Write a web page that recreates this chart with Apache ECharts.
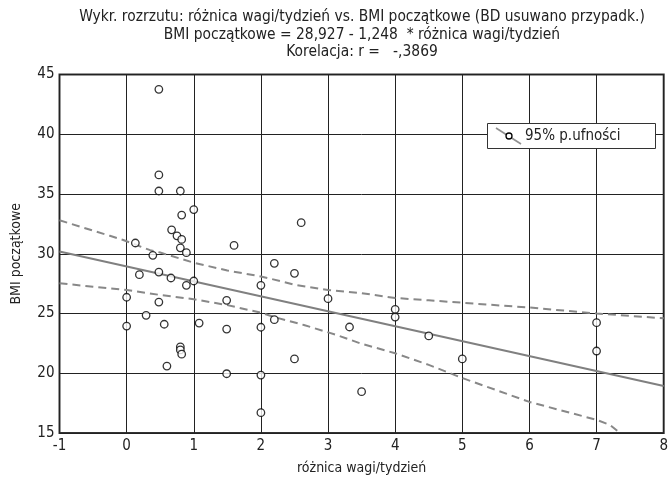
<!DOCTYPE html>
<html>
<head>
<meta charset="utf-8">
<script src="https://cdn.jsdelivr.net/npm/echarts@6/dist/echarts.min.js"></script>
<style>html,body{margin:0;padding:0;background:#fff;}#c{width:671px;height:480px;}</style>
</head>
<body>
<div id="c"></div>
<script>
var titleLines = [
  'Wykr. rozrzutu: różnica wagi/tydzień vs. BMI początkowe (BD usuwano przypadk.)',
  'BMI początkowe = 28,927 - 1,248  * różnica wagi/tydzień',
  'Korelacja: r =   -,3869'
];
var xName = 'różnica wagi/tydzień';
var yName = 'BMI początkowe';
var legendText = '95% p.ufności';

var pointsX = [0.48,0.48,0.48,0.80,1.00,0.82,0.67,0.75,0.82,0.13,0.80,1.60,0.89,0.39,2.20,0.19,0.48,0.66,1.00,0.89,2.00,0.00,0.48,1.49,2.20,0.29,0.00,0.56,1.08,1.49,2.00,0.80,0.80,0.82,0.60,1.49,2.00,2.00,2.60,2.50,3.00,3.32,4.00,4.00,4.50,2.50,5.00,3.50,7.00,7.00];
var pointsY = [43.76,36.60,35.25,35.25,33.70,33.24,32.00,31.50,31.20,30.90,30.50,30.70,30.09,29.87,29.20,28.25,28.47,27.97,27.72,27.36,27.36,26.36,25.96,26.10,24.48,24.85,23.95,24.10,24.20,23.70,23.85,22.20,21.95,21.60,20.60,19.96,19.85,16.70,32.60,28.36,26.24,23.87,25.35,24.70,23.12,21.20,21.20,18.46,24.23,21.86];

var fitX = [-1, 8];
var fitY = [30.18, 18.94];

var upperX = [-1.0,-0.25,-0.05,0.35,0.5,1.0,1.5,2.0,2.3,2.5,3.0,3.5,4.0,4.5,5.0,6.0,7.0,8.0];
var upperY = [32.8,31.5,31.15,30.3,30.1,29.25,28.6,28.1,27.7,27.4,26.97,26.7,26.3,26.1,25.9,25.5,25.0,24.6];
var lowerX = [-1.0,-0.5,0.0,0.5,1.0,1.5,2.0,2.2,2.64,3.13,3.48,4.0,4.5,5.0,6.0,7.0,7.2,7.35];
var lowerY = [27.53,27.24,26.97,26.55,26.2,25.7,25.07,24.7,24.04,23.2,22.5,21.67,20.7,19.6,17.6,16.1,15.67,15.0];

var xTicks = [-1,0,1,2,3,4,5,6,7,8];
var yTicks = [15,20,25,30,35,40,45];

function zip(a,b){return a.map(function(v,i){return [v,b[i]];});}

var FONT = '"Liberation Sans Narrow","DejaVu Sans Condensed","Roboto",sans-serif';
var chart = echarts.init(document.getElementById('c'), null, {renderer:'canvas'});
var titleGraphics = titleLines.map(function(t,i){
  return {type:'text', x:362, y:17 + i*17.5, z:20,
    style:{text:t, font:'15.4px '+FONT, fill:'#222', textAlign:'center', textVerticalAlign:'middle'}};
});
var opt = {
  backgroundColor:'#fff',
  animation:false,
  textStyle:{fontFamily:FONT},
  grid:{left:59.5, right:6, top:74.5, bottom:46.5, show:true, borderColor:'#333', borderWidth:2, backgroundColor:'transparent'},
  xAxis:{type:'value', min:xTicks[0], max:xTicks[xTicks.length-1], interval:1,
    name:xName, nameLocation:'middle', nameGap:28,
    nameTextStyle:{fontFamily:FONT, fontSize:14, color:'#222'},
    axisLine:{show:false}, axisTick:{show:false},
    axisLabel:{fontFamily:FONT, fontSize:15, color:'#222', margin:6},
    splitLine:{show:true, lineStyle:{color:'#222', width:1}}},
  yAxis:{type:'value', min:yTicks[0], max:yTicks[yTicks.length-1], interval:5,
    name:yName, nameLocation:'middle', nameGap:36, nameRotate:90,
    nameTextStyle:{fontFamily:FONT, fontSize:14, color:'#222'},
    axisLine:{show:false}, axisTick:{show:false},
    axisLabel:{fontFamily:FONT, fontSize:15, color:'#222', margin:5},
    splitLine:{show:true, lineStyle:{color:'#222', width:1}}},
  series:[
    {type:'line', data:zip(upperX,upperY), showSymbol:false, symbol:'none',
      lineStyle:{color:'#888', width:2, type:[8,5]}, z:2},
    {type:'line', data:zip(lowerX,lowerY), showSymbol:false, symbol:'none',
      lineStyle:{color:'#888', width:2, type:[8,5]}, z:2},
    {type:'line', data:zip(fitX,fitY), showSymbol:false, symbol:'none',
      lineStyle:{color:'#808080', width:2}, z:3},
    {type:'scatter', data:zip(pointsX,pointsY), symbol:'circle', symbolSize:7.5,
      itemStyle:{color:'#fff', borderColor:'#000', borderWidth:1.3}, z:5}
  ],
  graphic:titleGraphics.concat([
    {type:'rect', shape:{x:487.5, y:123.5, width:168, height:25}, style:{fill:'#fff', stroke:'#333', lineWidth:1}, z:10},
    {type:'line', shape:{x1:496, y1:128, x2:521, y2:144}, style:{stroke:'#909090', lineWidth:1.6}, z:11},
    {type:'circle', shape:{cx:509, cy:136, r:3}, style:{fill:'#fff', stroke:'#000', lineWidth:1.3}, z:12},
    {type:'text', x:525, y:136, style:{text:legendText, font:'15px '+FONT, fill:'#222', textVerticalAlign:'middle'}, z:12}
  ])
};
chart.setOption(opt);
</script>
</body>
</html>
